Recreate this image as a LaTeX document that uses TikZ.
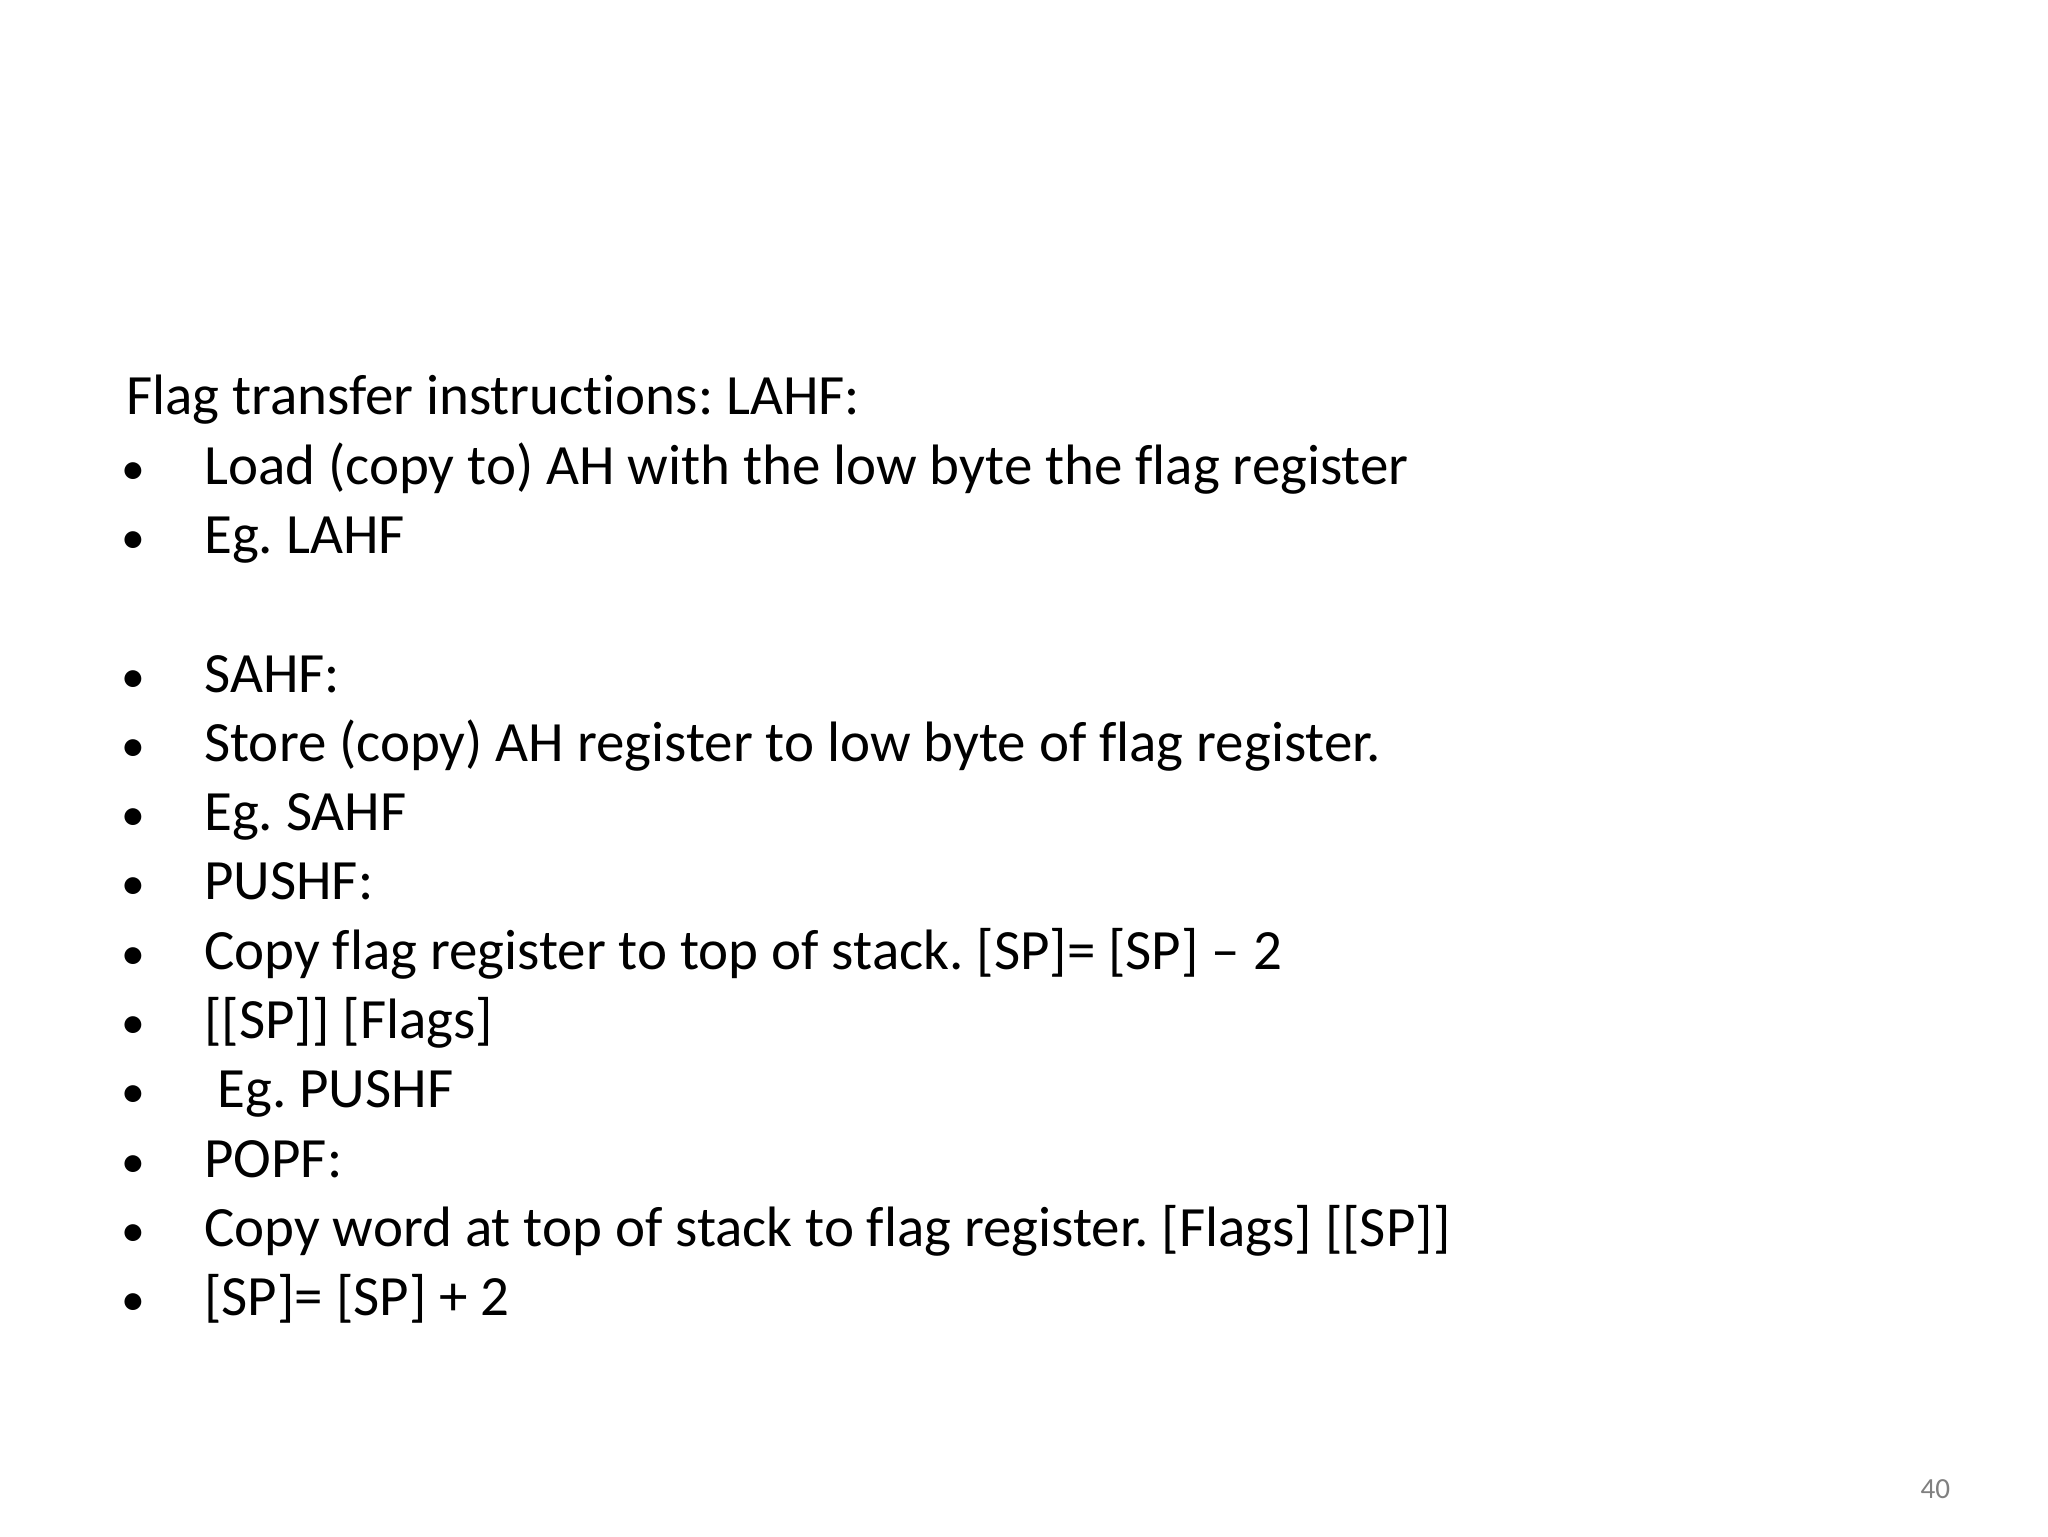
\documentclass[tikz,border=0pt]{standalone}
\usepackage{fontspec}
\setmainfont[Ligatures=NoCommon]{Carlito}
\frenchspacing
\begin{document}
\begin{tikzpicture}[x=1pt,y=-1pt,
  txt/.style={anchor=base west,inner sep=0pt,font=\fontsize{43}{50}\selectfont},
  bul/.style={anchor=base,inner sep=0pt,font=\fontsize{36}{44}\selectfont}]
\useasboundingbox (0,0) rectangle (1546,1160);
\fill[white] (0,0) rectangle (1546,1160);
\node[txt] (t0) at (95,313) {Flag transfer instructions: LAHF:};
\foreach \n/\y/\s/\dx in {1/366/{Load (copy to) AH with the low byte the flag register}/0,
  2/418/{Eg. LAHF}/0,
  3/523/{SAHF:}/0,
  4/575/{Store (copy) AH register to low byte of flag register.}/0,
  5/627/{Eg. SAHF}/0,
  6/679/{PUSHF:}/0,
  7/732/{Copy flag register to top of stack. [SP]= [SP] – 2}/0,
  8/784/{[[SP]] [Flags]}/0,
  9/836/{Eg. PUSHF}/10,
  10/889/{POPF:}/0,
  11/941/{Copy word at top of stack to flag register. [Flags] [[SP]]}/0,
  12/993/{[SP]= [SP] + 2}/0}{
  \node[bul] (b\n) at (101,\y) {\textbullet};
  \node[txt] (l\n) at (154+\dx,\y) {\s};
}
\node[anchor=base,inner sep=0pt,text=gray,font=\fontsize{22}{26}\selectfont] (pg) at (1461,1131) {40};
\end{tikzpicture}
\end{document}
